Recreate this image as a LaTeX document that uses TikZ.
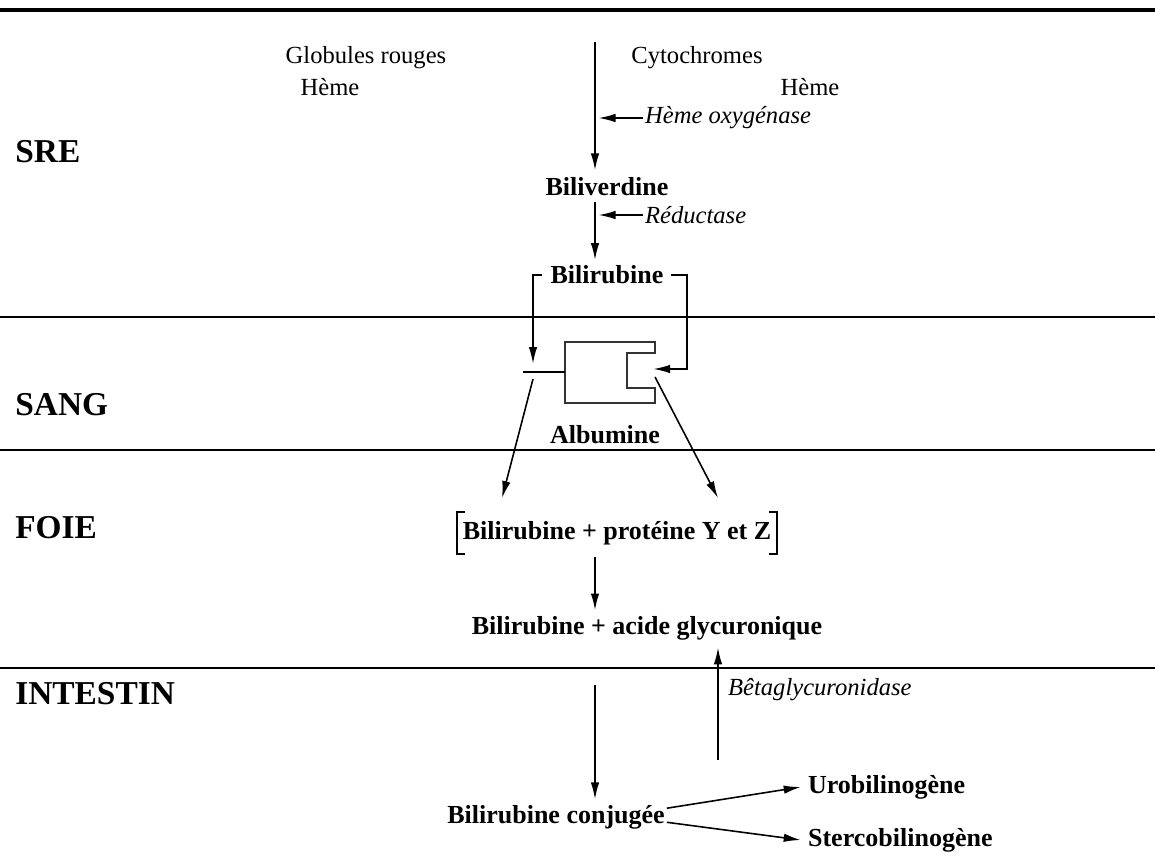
\documentclass[tikz,border=0pt]{standalone}
\usepackage{fontspec}
\setmainfont{Liberation Serif}
\usetikzlibrary{positioning, arrows.meta}

\begin{document}
\begin{tikzpicture}[
    x=0.02cm, y=-0.02cm,
    zone/.style = {anchor=west, inner sep=0pt,
                   font=\fontsize{19}{21}\selectfont\bfseries},
    txt/.style  = {inner sep=1pt, font=\fontsize{14}{16}\selectfont},
    mol/.style  = {inner sep=1pt, font=\fontsize{14.8}{17}\selectfont\bfseries},
    enz/.style  = {anchor=west, inner sep=1pt,
                   font=\fontsize{14}{16}\selectfont\itshape},
    arr/.style  = {-{Latex[length=3.4mm, width=1.7mm]}, line width=1.1pt},
    sep/.style  = {line width=1.2pt}
]
\useasboundingbox (0,0) rectangle (1155,859);

% --- Colonne principale : x de l'axe vertical ------------------------------
\def\xAxe{595}
\coordinate (axe) at (\xAxe,0);

% --- Separations des compartiments ---------------------------------------
\draw[line width=2.4pt] (0,10) -- (1155,10);
\draw[sep] (0,317) -- (1155,317);
\draw[sep] (0,450) -- (1155,450);
\draw[sep] (0,668) -- (1155,668);

% --- Compartiments (a gauche) --------------------------------------------
\node[zone] (sre)  at (15,152) {SRE};
\node[zone] (sang) at (15,405) {SANG};
\node[zone] (foie) at (15,528) {FOIE};
\node[zone] (int)  at (15,694) {INTESTIN};

% --- SRE -----------------------------------------------------------------
\node[txt] (glob)  at (366,58) {Globules rouges};
\node[txt] (hemeG) at (330,87) {Hème};
\node[txt] (cyto)  at (697,58) {Cytochromes};
\node[txt] (hemeD) at (810,87) {Hème};

\node[mol] (biliv) at (607,187) {Biliverdine};
\node[mol] (bilir) at (607,275) {Bilirubine};

\coordinate (depart) at (\xAxe,42);
\draw[arr] (depart) -- ([yshift=3pt]biliv.north -| axe);
\draw[arr] ([yshift=-2pt]biliv.south -| axe) -- ([yshift=2pt]bilir.north -| axe);

% enzymes (petites fleches vers l'axe)
\node[enz] (hox) at (643,118) {Hème oxygénase};
\node[enz] (red) at (643,215) {Réductase};
\draw[arr, line width=0.9pt] (hox.west) -- ([xshift=2pt]hox.west -| axe);
\draw[arr, line width=0.9pt] (red.west) -- ([xshift=2pt]red.west -| axe);

% --- SANG : albumine -----------------------------------------------------
\draw[line width=0.9pt, black!80] (655,353) -- (655,342) -- (565,342)
  -- (565,403) -- (655,403) -- (655,388) -- (627,388) -- (627,353) -- cycle;
\draw[line width=0.9pt] (523,372) -- (565,372);
\node[mol] (alb) at (605,435) {Albumine};

\coordinate (albG) at (533,364);
\coordinate (coinD) at (687,369);
\coordinate (albD) at (653,369);
\draw[arr] ([xshift=-4pt]bilir.west) -| (albG);
\draw[arr] ([xshift=3pt]bilir.east) -| (coinD) -- (albD);

% --- FOIE ----------------------------------------------------------------
\node[mol, inner xsep=3pt, inner ysep=5pt] (pyz) at (617,533)
  {Bilirubine + protéine Y et Z};
\draw[line width=1.1pt] ([shift={(8,0)}]pyz.north west) -| (pyz.south west) -- ++(8,0);
\draw[line width=1.1pt] ([shift={(-8,0)}]pyz.north east) -| (pyz.south east) -- ++(-8,0);

\coordinate (sortG) at (533,379);
\coordinate (sortD) at (655,377);
\draw[arr, line width=0.9pt] (sortG) -- ([shift={(-115,-14)}]pyz.north);
\draw[arr, line width=0.9pt] (sortD) -- ([shift={(101,-14)}]pyz.north);

\node[mol] (glyc) at (647,628) {Bilirubine + acide glycuronique};
\draw[arr] ([yshift=-2pt]pyz.south -| axe) -- ([yshift=2pt]glyc.north -| axe);

% --- INTESTIN ------------------------------------------------------------
\node[mol] (conj) at (556,817) {Bilirubine conjugée};
\node[mol, anchor=west] (uro)  at (806,787) {Urobilinogène};
\node[mol, anchor=west] (ster) at (806,840) {Stercobilinogène};

\coordinate (entree) at (\xAxe,685);
\draw[arr] (entree) -- ([yshift=2pt]conj.north -| axe);

% Betaglycuronidase : retour vers le foie
\coordinate (beta) at (718,760);
\draw[arr] (beta) -- ([yshift=-3pt]glyc.south -| beta);
\node[enz] (betaTxt) at (726,690) {Bêtaglycuronidase};

\draw[arr, line width=0.9pt] ([yshift=5pt]conj.east) -- ([xshift=-3pt]uro.west);
\draw[arr, line width=0.9pt] ([yshift=-3pt]conj.east) -- ([xshift=-3pt]ster.west);
\end{tikzpicture}
\end{document}
